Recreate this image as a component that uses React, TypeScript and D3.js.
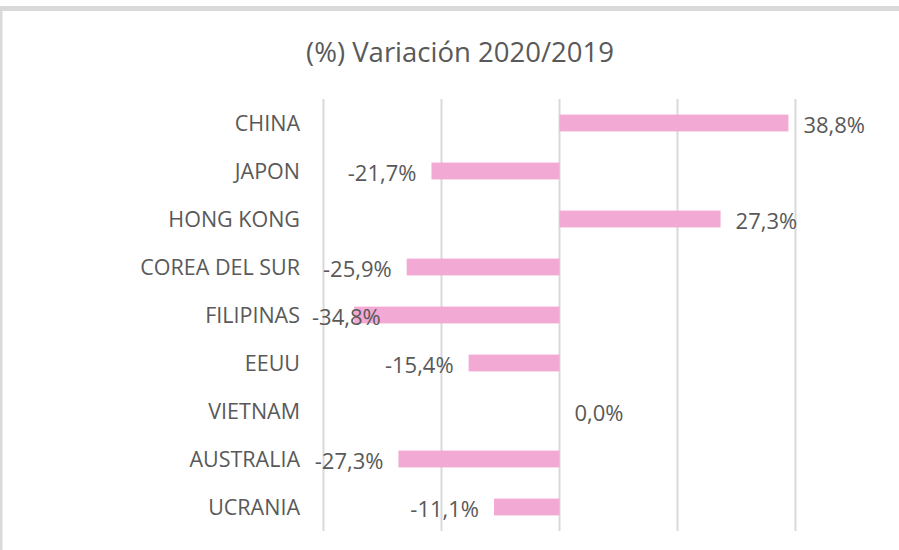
import React from "react";
import * as d3 from "d3";

const categories = ["CHINA", "JAPON", "HONG KONG", "COREA DEL SUR", "FILIPINAS", "EEUU", "VIETNAM", "AUSTRALIA", "UCRANIA"];
const values = [38.8, -21.7, 27.3, -25.9, -34.8, -15.4, 0.0, -27.3, -11.1];
const gridTicks = [-40, -20, 0, 20, 40];
const title = "(%) Variación 2020/2019";

const W = 899;
const H = 550;
const FONT = "'Open Sans', 'Noto Sans', sans-serif";
const TEXT = "#595959";
const LABEL_SIZE = 22;

function measure(text: string): number {
  if (typeof document === "undefined") return text.length * LABEL_SIZE * 0.55;
  const ctx = document.createElement("canvas").getContext("2d");
  if (!ctx) return text.length * LABEL_SIZE * 0.55;
  ctx.font = `${LABEL_SIZE}px 'Open Sans', 'Noto Sans', sans-serif`;
  return ctx.measureText(text).width;
}

export default function App() {
  const x = d3.scaleLinear().domain([-40, 40]).range([323.5, 795.5]);
  const y = d3.scaleBand().domain(categories).range([99, 531]).paddingInner(0.65).paddingOuter(0.325);
  const fmt = (v: number) => v.toFixed(1).replace(".", ",") + "%";
  const minLabelLeft = 312;
  return (
    <div style={{ position: "fixed", left: 0, top: 0 }}>
      <svg width={W} height={H} style={{ display: "block", background: "#fff" }}>
        <rect x={0} y={6} width={W} height={5} fill="#d9d9d9" />
        <rect x={0} y={11} width={2.5} height={H - 11} fill="#d9d9d9" />
        <text x={460} y={62} textAnchor="middle" fontFamily={FONT} fontSize={27.5} fill={TEXT}>{title}</text>
        {gridTicks.map((t) => (
          <line key={t} x1={x(t)} x2={x(t)} y1={99} y2={531} stroke="#d9d9d9" strokeWidth={2} />
        ))}
        {categories.map((c, i) => {
          const v = values[i];
          const by = y(c)!;
          const bh = y.bandwidth();
          const cy = by + bh / 2;
          const x0 = x(Math.min(0, v));
          const x1 = x(Math.max(0, v));
          const label = fmt(v);
          let lx: number;
          if (v < 0) {
            const w = measure(label);
            lx = Math.max(minLabelLeft, x(v) - 15 - w);
          } else {
            lx = x(v) + 15;
          }
          return (
            <g key={c}>
              <text x={300} y={cy + 8} textAnchor="end" fontFamily={FONT} fontSize={21.5} fill={TEXT}>{c}</text>
              {v !== 0 && <rect x={x0} y={by} width={x1 - x0} height={bh} fill="#f2a9d3" />}
              <text x={lx} y={cy + 10} textAnchor="start" fontFamily={FONT} fontSize={LABEL_SIZE} fill={TEXT}>
                {label}
              </text>
            </g>
          );
        })}
      </svg>
    </div>
  );
}
